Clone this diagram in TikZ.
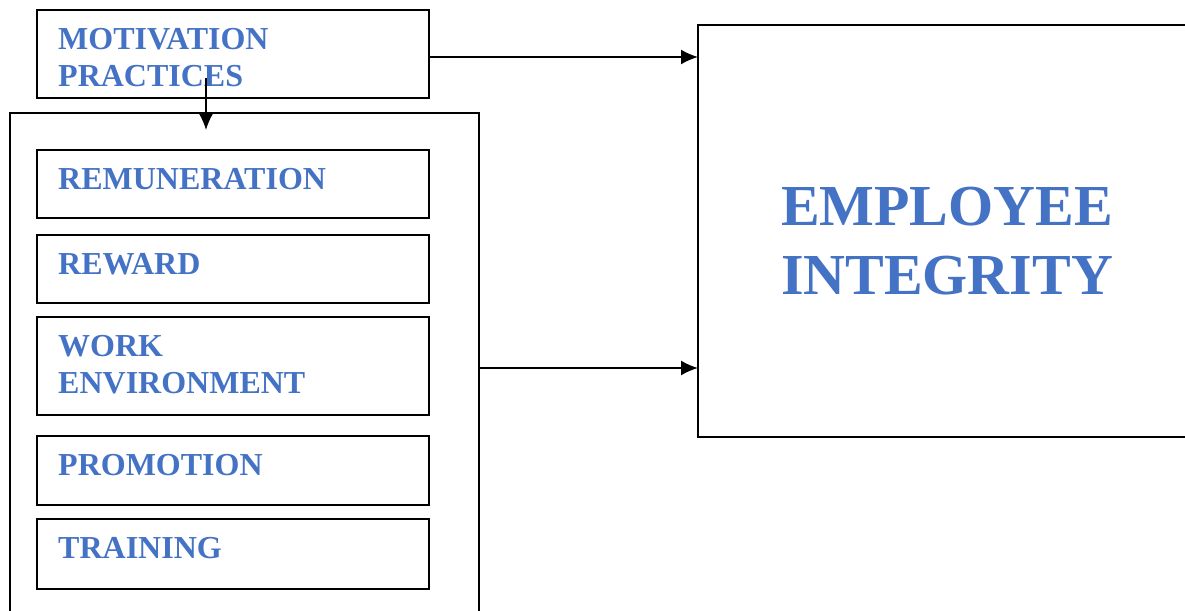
\documentclass[tikz,border=0pt]{standalone}
\usepackage{fontspec}
\setmainfont{Liberation Serif}
\usetikzlibrary{arrows.meta}
\definecolor{wordblue}{RGB}{68,114,196}

\begin{document}
\begin{tikzpicture}[x=1pt,y=1pt]
    \tikzset{box/.style = {draw, line width=1.8pt, minimum width=392pt, anchor=north west, inner sep=0pt, outer sep=0pt}}
    \tikzset{lbl/.style = {anchor=north west, inner sep=0pt, align=left, text=wordblue, font=\bfseries\fontsize{32}{37}\selectfont}}
    \tikzset{biglbl/.style = {inner sep=0pt, align=center, text=wordblue, font=\bfseries\fontsize{58}{69}\selectfont}}
    \tikzset{conn/.style = {line width=1.8pt, -{Latex[length=17pt,width=15pt]}}}

    \useasboundingbox (0,0) rectangle (1185,-610);

    % boxes
    \node[box, minimum height=88pt] (motiv) at (37,-10) {};
    \node[box, minimum width=469pt, minimum height=510pt] (group) at (10,-113) {};
    \node[box, minimum height=68pt] (remun) at (37,-150) {};
    \node[box, minimum height=68pt] (reward) at (37,-235) {};
    \node[box, minimum height=98pt] (workenv) at (37,-317) {};
    \node[box, minimum height=69pt] (promo) at (37,-436) {};
    \node[box, minimum height=70pt] (train) at (37,-519) {};
    \node[box, minimum width=498pt, minimum height=412pt] (integ) at (698,-25) {};

    % texts
    \node[lbl] (motivtxt) at ([xshift=21pt,yshift=-18pt]motiv.north west) {MOTIVATION\\PRACTICES};
    \node[lbl] (remuntxt) at ([xshift=21pt,yshift=-18pt]remun.north west) {REMUNERATION};
    \node[lbl] (rewardtxt) at ([xshift=21pt,yshift=-18pt]reward.north west) {REWARD};
    \node[lbl] (workenvtxt) at ([xshift=21pt,yshift=-18pt]workenv.north west) {WORK\\ENVIRONMENT};
    \node[lbl] (promotxt) at ([xshift=21pt,yshift=-18pt]promo.north west) {PROMOTION};
    \node[lbl] (traintxt) at ([xshift=21pt,yshift=-18pt]train.north west) {TRAINING};
    \node[biglbl] (integtxt) at ([yshift=-10pt]integ.center) {EMPLOYEE\\INTEGRITY};

    % arrows
    \coordinate (dropstart) at (206,-78);
    \coordinate (dropend) at (206,-130);
    \draw[conn] ([yshift=-3pt]motiv.east) -- ([yshift=-3pt]motiv.east -| integ.west);
    \draw[conn] (dropstart) -- (dropend);
    \draw[conn] (group.east) -- (group.east -| integ.west);
\end{tikzpicture}
\end{document}
